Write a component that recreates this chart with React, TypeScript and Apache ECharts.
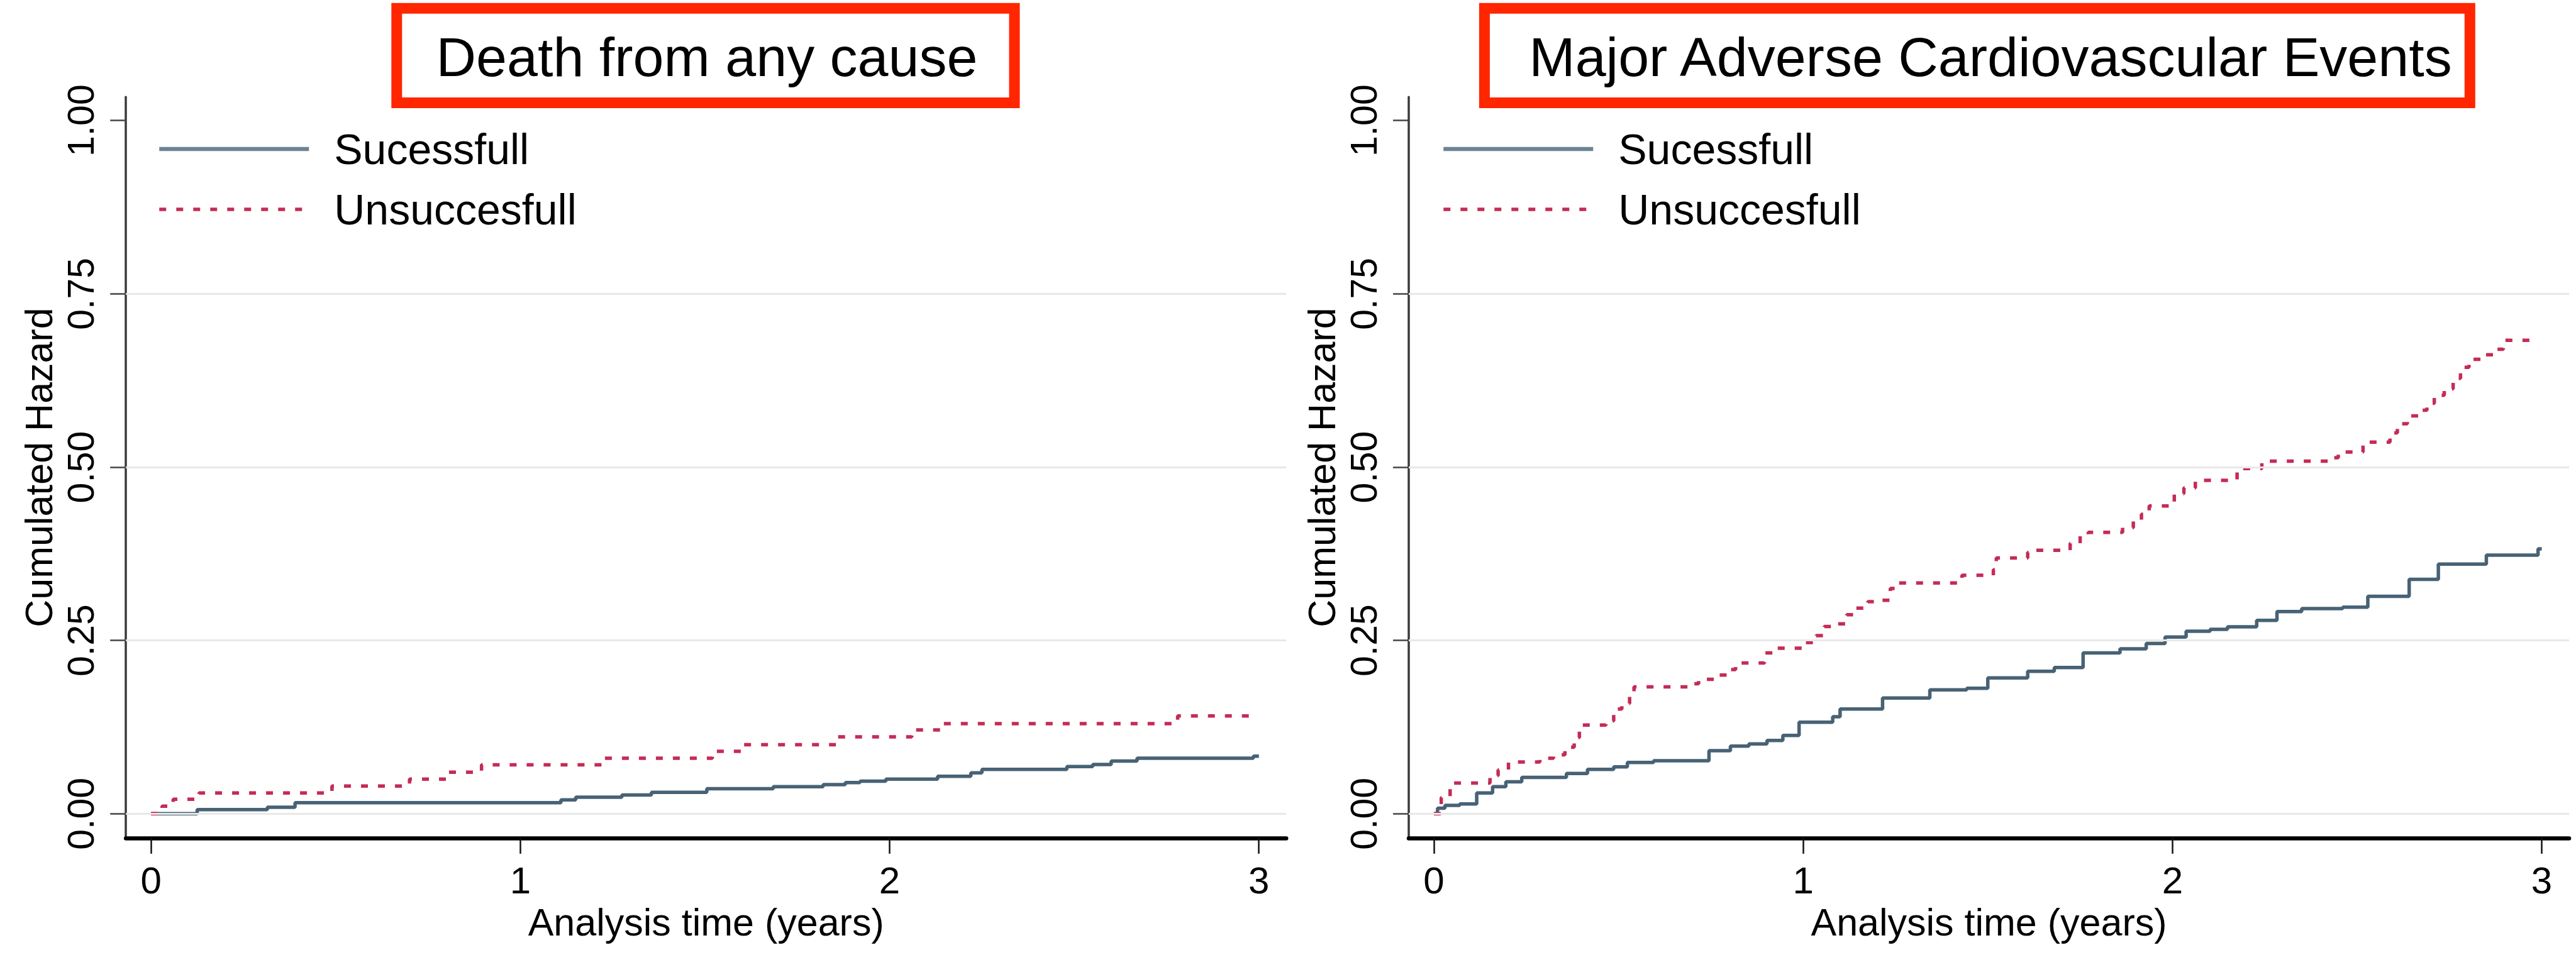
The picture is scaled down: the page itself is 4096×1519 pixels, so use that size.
import React, { useEffect, useRef } from "react";
import * as echarts from "echarts";

// ---------- texts ----------
const panelTitles = ["Death from any cause", "Major Adverse Cardiovascular Events"];
const seriesNames = ["Sucessfull", "Unsuccesfull"];
const xAxisName = "Analysis time (years)";
const yAxisName = "Cumulated Hazard";
const xTickValues = [0, 1, 2, 3];
const yTickValues = [0, 0.25, 0.5, 0.75, 1];
const gridLineValues = [0, 0.25, 0.5, 0.75];

// ---------- Death from any cause ----------
const deathSuccessTime = [0, 0.125, 0.315, 0.39, 1.11, 1.15, 1.275, 1.355, 1.505, 1.685, 1.82, 1.88, 1.92, 1.99, 2.13, 2.22, 2.25, 2.48, 2.55, 2.6, 2.67, 2.985, 3.0];
const deathSuccessHazard = [0, 0.006, 0.0094, 0.016, 0.02, 0.0238, 0.027, 0.031, 0.036, 0.039, 0.042, 0.045, 0.047, 0.05, 0.054, 0.059, 0.064, 0.068, 0.071, 0.076, 0.08, 0.083, 0.083];

const deathFailTime = [0, 0.03, 0.06, 0.13, 0.49, 0.7, 0.8, 0.895, 1.225, 1.52, 1.6, 1.86, 2.06, 2.14, 2.78, 2.99];
const deathFailHazard = [0, 0.011, 0.021, 0.03, 0.04, 0.05, 0.06, 0.0705, 0.08, 0.09, 0.0997, 0.111, 0.121, 0.13, 0.141, 0.141];

// ---------- Major Adverse Cardiovascular Events ----------
const maceSuccessTime = [0, 0.01, 0.03, 0.07, 0.116, 0.159, 0.195, 0.238, 0.359, 0.416, 0.487, 0.524, 0.595, 0.745, 0.803, 0.853, 0.902, 0.945, 0.989, 1.08, 1.1, 1.215, 1.343, 1.443, 1.5, 1.608, 1.68, 1.758, 1.858, 1.929, 1.98, 2.037, 2.102, 2.149, 2.228, 2.283, 2.35, 2.461, 2.529, 2.641, 2.72, 2.85, 2.99, 3.0];
const maceSuccessHazard = [0, 0.008, 0.012, 0.014, 0.03, 0.039, 0.046, 0.0525, 0.058, 0.064, 0.0677, 0.074, 0.0765, 0.091, 0.0976, 0.1008, 0.1057, 0.113, 0.132, 0.14, 0.151, 0.167, 0.1787, 0.181, 0.196, 0.2055, 0.211, 0.232, 0.238, 0.2455, 0.255, 0.2634, 0.266, 0.2697, 0.279, 0.2917, 0.296, 0.298, 0.3137, 0.338, 0.36, 0.373, 0.382, 0.382];

const maceFailTime = [0, 0.02, 0.044, 0.152, 0.174, 0.202, 0.287, 0.324, 0.355, 0.38, 0.394, 0.466, 0.487, 0.509, 0.53, 0.542, 0.692, 0.717, 0.767, 0.799, 0.817, 0.8955, 0.917, 1.003, 1.035, 1.057, 1.086, 1.118, 1.143, 1.175, 1.2, 1.236, 1.257, 1.43, 1.515, 1.523, 1.608, 1.63, 1.723, 1.75, 1.772, 1.865, 1.894, 1.916, 1.937, 2.005, 2.031, 2.062, 2.175, 2.242, 2.422, 2.449, 2.516, 2.589, 2.609, 2.636, 2.669, 2.689, 2.709, 2.736, 2.76, 2.78, 2.803, 2.836, 2.87, 2.896, 2.99];
const maceFailHazard = [0, 0.0235, 0.0443, 0.055, 0.063, 0.0746, 0.08, 0.085, 0.096, 0.11, 0.128, 0.134, 0.151, 0.159, 0.169, 0.183, 0.1875, 0.194, 0.2, 0.208, 0.2174, 0.232, 0.2387, 0.247, 0.257, 0.27, 0.274, 0.287, 0.2967, 0.306, 0.308, 0.325, 0.333, 0.344, 0.352, 0.369, 0.3768, 0.38, 0.39, 0.403, 0.406, 0.4127, 0.422, 0.432, 0.444, 0.462, 0.47, 0.481, 0.498, 0.5086, 0.5136, 0.5217, 0.536, 0.5495, 0.5626, 0.574, 0.582, 0.592, 0.6036, 0.613, 0.628, 0.644, 0.6556, 0.662, 0.67, 0.683, 0.685];

const FONT = "'Liberation Sans', Arial, Helvetica, sans-serif";
const SUCCESS_COLOR = "#486275";
const FAIL_COLOR = "#c42c55";
const BOX_RED = "#ff2600";

const zip = (t: number[], v: number[]) => t.map((x, i) => [x, v[i]]);

const panels = [
  { success: zip(deathSuccessTime, deathSuccessHazard), fail: zip(deathFailTime, deathFailHazard), gridLeft: 200.2, legendLeft: 250 },
  { success: zip(maceSuccessTime, maceSuccessHazard), fail: zip(maceFailTime, maceFailHazard), gridLeft: 2240, legendLeft: 2292 },
];

function buildOption(): echarts.EChartsOption {
  const grid = panels.map((p) => ({ left: p.gridLeft, top: 154.2, width: 1845, height: 1178.7, containLabel: false }));

  const xAxis = panels.map((_, i) => ({
    type: "value" as const,
    gridIndex: i,
    min: -0.068,
    max: 3.074,
    name: xAxisName,
    nameLocation: "middle" as const,
    nameGap: 104,
    nameTextStyle: { fontSize: 61, color: "#000", fontFamily: FONT },
    axisLine: { show: true, onZero: false, lineStyle: { color: "#000", width: 6.5 } },
    axisTick: { show: true, customValues: xTickValues, length: 25, lineStyle: { color: "#111", width: 2.5 } },
    axisLabel: { show: true, customValues: xTickValues, fontSize: 60, margin: 38, color: "#000", fontFamily: FONT },
    splitLine: { show: false },
  }));

  const yAxis = panels.map((_, i) => ({
    type: "value" as const,
    gridIndex: i,
    min: -0.035,
    max: 1.034,
    name: yAxisName,
    nameLocation: "middle" as const,
    nameGap: 108,
    nameTextStyle: { fontSize: 61, color: "#000", fontFamily: FONT },
    axisLine: { show: true, onZero: false, lineStyle: { color: "#3a3a3a", width: 3.5 } },
    axisTick: { show: true, customValues: yTickValues, length: 25, lineStyle: { color: "#444", width: 2.5 } },
    axisLabel: {
      show: true,
      customValues: yTickValues,
      rotate: 90,
      fontSize: 59,
      margin: 42,
      color: "#000",
      fontFamily: FONT,
      formatter: (v: number) => v.toFixed(2),
    },
    splitLine: { show: false },
  }));

  const series: any[] = [];
  panels.forEach((p, i) => {
    series.push({
      name: "grid" + i,
      type: "line",
      xAxisIndex: i,
      yAxisIndex: i,
      data: [],
      silent: true,
      z: 1,
      markLine: {
        silent: true,
        symbol: ["none", "none"],
        label: { show: false },
        lineStyle: { color: "#e8e8e8", width: 3, type: "solid" },
        data: gridLineValues.map((v) => ({ yAxis: v })),
      },
    });
    series.push({
      name: seriesNames[0],
      type: "line",
      xAxisIndex: i,
      yAxisIndex: i,
      step: "end",
      symbol: "none",
      showSymbol: false,
      z: 3,
      data: p.success,
      lineStyle: { color: SUCCESS_COLOR, width: 5.5, type: "solid" },
      itemStyle: { color: SUCCESS_COLOR },
    });
    series.push({
      name: seriesNames[1],
      type: "line",
      xAxisIndex: i,
      yAxisIndex: i,
      step: "end",
      symbol: "none",
      showSymbol: false,
      z: 3,
      data: p.fail,
      lineStyle: { color: FAIL_COLOR, width: 5.5, type: [11, 16] },
      itemStyle: { color: FAIL_COLOR },
    });
  });

  const legend = panels.map((p) => ({
    show: true,
    orient: "vertical" as const,
    left: p.legendLeft,
    top: 203,
    padding: 0,
    itemWidth: 238,
    itemHeight: 14,
    itemGap: 28,
    selectedMode: false,
    data: [
      { name: seriesNames[0], itemStyle: { opacity: 0, color: "transparent", borderWidth: 0 }, lineStyle: { color: "#6a8495", width: 6.5, type: "solid" } },
      { name: seriesNames[1], itemStyle: { opacity: 0, color: "transparent", borderWidth: 0 }, lineStyle: { color: FAIL_COLOR, width: 5.5, type: [11, 16] } },
    ],
    textStyle: { fontSize: 68, lineHeight: 68, color: "#000", fontFamily: FONT, padding: [0, 0, 0, 35] },
  }));

  const boxes = [
    { x: 630.8, width: 982.2, cx: 1124 },
    { x: 2360.4, width: 1566.9, cx: 3165 },
  ];
  const graphic: any[] = [];
  boxes.forEach((b, i) => {
    graphic.push({
      type: "rect",
      shape: { x: b.x, y: 13.2, width: b.width, height: 150.3 },
      style: { fill: "#ffffff", stroke: BOX_RED, lineWidth: 17 },
      z: 10,
    });
    graphic.push({
      type: "text",
      x: b.cx,
      y: 90,
      style: {
        text: panelTitles[i],
        fontSize: 88,
        fontFamily: FONT,
        fill: "#000",
        align: "center",
        verticalAlign: "middle",
        textAlign: "center",
        textVerticalAlign: "middle",
      },
      z: 11,
    });
  });

  return {
    animation: false,
    backgroundColor: "#ffffff",
    grid,
    xAxis,
    yAxis,
    legend,
    series,
    graphic,
  } as any;
}

export default function App() {
  const ref = useRef<HTMLDivElement | null>(null);
  useEffect(() => {
    if (!ref.current) return;
    const chart = echarts.init(ref.current, undefined, { renderer: "svg" });
    chart.setOption(buildOption());
    return () => chart.dispose();
  }, []);
  return (
    <div
      ref={ref}
      style={{ position: "fixed", left: 0, top: 0, width: 4096, height: 1519, background: "#fff" }}
    />
  );
}
